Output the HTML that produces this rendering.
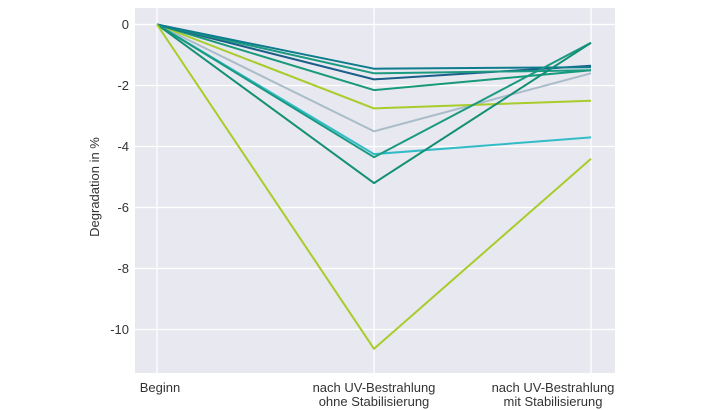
<!DOCTYPE html>
<html><head><meta charset="utf-8"><style>body{margin:0;background:#fff}svg{display:block}text{font-family:"Liberation Sans",sans-serif;fill:#333}</style></head><body>
<svg width="728" height="410" viewBox="0 0 728 410">
<rect x="135" y="8" width="480" height="365" fill="#e8e8f0"/>
<g stroke="#fff" stroke-width="1.3">
<line x1="135" x2="615" y1="24.5" y2="24.5"/><line x1="135" x2="615" y1="85.5" y2="85.5"/><line x1="135" x2="615" y1="146.5" y2="146.5"/><line x1="135" x2="615" y1="207.5" y2="207.5"/><line x1="135" x2="615" y1="268.5" y2="268.5"/><line x1="135" x2="615" y1="329.5" y2="329.5"/>
<line x1="157" x2="157" y1="8" y2="373"/><line x1="374" x2="374" y1="8" y2="373"/><line x1="591" x2="591" y1="8" y2="373"/>
</g>
<g fill="none" stroke-width="2" stroke-linejoin="round">
<polyline stroke="#a9bcc8" points="157,24.5 374,131.3 591,73.3"/>
<polyline stroke="#a8cc2a" points="157,24.5 374,108.4 591,100.7"/>
<polyline stroke="#17997a" points="157,24.5 374,90.1 591,70.3"/>
<polyline stroke="#1b5e8a" points="157,24.5 374,79.4 591,65.7"/>
<polyline stroke="#1a9a80" points="157,24.5 374,73.3 591,70.3"/>
<polyline stroke="#0e7c8c" points="157,24.5 374,68.7 591,67.2"/>
<polyline stroke="#32bcc8" points="157,24.5 374,154.1 591,137.4"/>
<polyline stroke="#1a9a80" points="157,24.5 374,157.2 591,42.8"/>
<polyline stroke="#128f74" points="157,24.5 374,183.1 591,42.8"/>
<polyline stroke="#a8cc2a" points="157,24.5 374,348.8 591,158.7"/>
</g>
<g font-size="13" text-anchor="end">
<text x="129" y="29">0</text><text x="129" y="90">-2</text><text x="129" y="151">-4</text><text x="129" y="212">-6</text><text x="129" y="273">-8</text><text x="129" y="334">-10</text>
</g>
<text transform="translate(99,187) rotate(-90)" font-size="13" text-anchor="middle">Degradation in %</text>
<g font-size="13" text-anchor="middle">
<text x="160" y="392">Beginn</text>
<text x="374" y="392">nach UV-Bestrahlung</text><text x="374" y="406">ohne Stabilisierung</text>
<text x="553" y="392">nach UV-Bestrahlung</text><text x="553" y="406">mit Stabilisierung</text>
</g>
</svg>
</body></html>
